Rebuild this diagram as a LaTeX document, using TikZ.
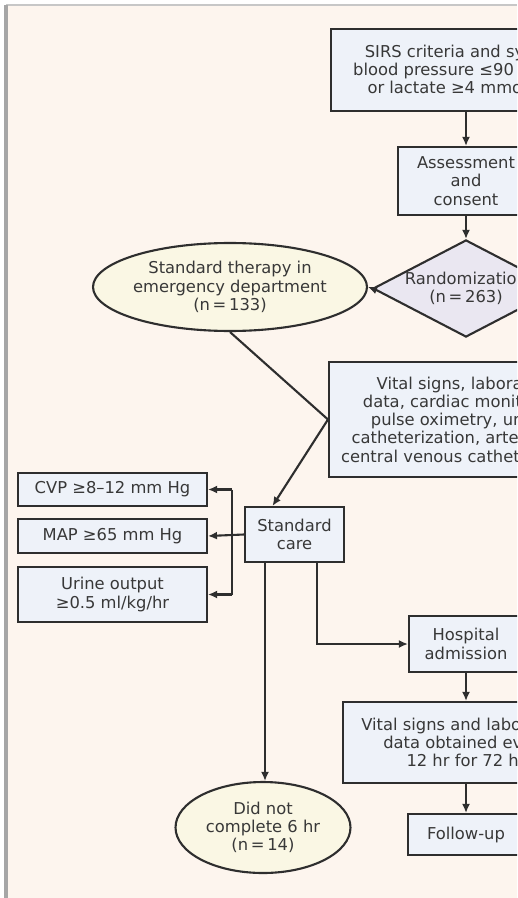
\documentclass[tikz,border=0pt]{standalone}
\usepackage{fontspec}
\setmainfont{DejaVu Sans}
\usetikzlibrary{shapes.geometric,arrows.meta,calc}
\definecolor{paper}{HTML}{FDF5EE}
\definecolor{boxfill}{HTML}{EEF2F9}
\definecolor{ovalfill}{HTML}{FAF7E4}
\definecolor{diafill}{HTML}{EAE7F1}
\definecolor{ink}{HTML}{2E2E2E}
\definecolor{txt}{HTML}{383838}
\begin{document}
\begin{tikzpicture}[x=0.02cm,y=-0.02cm,
	font=\fontsize{9.3}{10.4}\selectfont,
	every node/.style={text=txt,align=center,inner sep=0pt},
	box/.style={draw=ink,line width=1.2pt,fill=boxfill,rectangle},
	oval/.style={draw=ink,line width=1.2pt,fill=ovalfill,ellipse},
	link/.style={draw=ink,line width=1.2pt},
	arr/.style={link,-{Latex[length=1.8mm,width=1.6mm]}}]
	\useasboundingbox (0,0) rectangle (517,898);
	\clip (0,0) rectangle (517,898);
	\fill[white] (0,0) rectangle (517,898);
	\fill[paper] (6,6) rectangle (517,898);
	\draw[line width=1pt,black!22] (6,5) -- (517,5);
	\draw[line width=2pt,black!35] (6,5) -- (6,898);

	\node[box,minimum width=5.4cm,minimum height=1.64cm] (sirs) at (466,70) {SIRS criteria and systolic\\blood pressure ≤90 mm Hg\\or lactate ≥4 mmol/liter};
	\node[box,minimum width=2.72cm,minimum height=1.36cm] (assess) at (466,181) {Assessment\\and\\consent};
	\node[diamond,draw=ink,line width=1.2pt,fill=diafill,shape aspect=1.9,minimum width=3.72cm,minimum height=1.94cm] (rand) at (466,288.5) {Randomization\\(n\,=\,263)};
	\node[oval,minimum width=4.68cm,minimum height=1.76cm] (stdther) at (230,287) {Standard therapy in\\emergency department\\(n\,=\,133)};
	\node[box,minimum width=5.48cm,minimum height=2.3cm] (vital) at (466,419.5) {Vital signs, laboratory\\data, cardiac monitoring,\\pulse oximetry, urinary\\catheterization, arterial and\\central venous catheterization};
	\node[box,minimum width=1.98cm,minimum height=1.1cm] (stdcare) at (294.5,534.5) {Standard\\care};
	\node[box,minimum width=3.78cm,minimum height=0.66cm] (cvp) at (112.5,489.5) {CVP ≥8–12 mm Hg};
	\node[box,minimum width=3.78cm,minimum height=0.68cm] (map) at (112.5,536) {MAP ≥65 mm Hg};
	\node[box,minimum width=3.78cm,minimum height=1.1cm] (urine) at (112.5,594.5) {Urine output\\≥0.5 ml/kg/hr};
	\node[box,minimum width=2.28cm,minimum height=1.12cm] (hosp) at (466,644) {Hospital\\admission};
	\node[box,minimum width=4.92cm,minimum height=1.62cm] (labs) at (466,742.5) {Vital signs and laboratory\\data obtained every\\12 hr for 72 hr};
	\node[box,minimum width=2.32cm,minimum height=0.82cm] (follow) at (466,834.5) {Follow-up};
	\node[oval,minimum width=3.5cm,minimum height=1.82cm] (didnot) at (263,827.5) {Did not\\complete 6 hr\\(n\,=\,14)};

	\coordinate (bus) at (232,0);
	\coordinate (drop) at ($(stdcare.south)+(-29.5,0)$);
	\coordinate (split) at ($(stdcare.south)+(22.5,0)$);
	\draw[arr] (sirs) -- (assess);
	\draw[arr] (assess) -- (rand);
	\draw[arr] (rand.west) -- (stdther.east);
	\draw[arr] (stdther.south) -- (vital.west) -- ($(stdcare.north)+(-22,0)$);
	\draw[arr] (stdcare.west) -- (map.east);
	\draw[link] (bus |- cvp.east) -- (bus |- urine.east);
	\draw[arr] (bus |- cvp.east) -- (cvp.east);
	\draw[arr] (bus |- urine.east) -- (urine.east);
	\draw[arr] (drop) -- (drop |- didnot.north);
	\draw[arr] (split) |- (hosp.west);
	\draw[arr] (hosp) -- (labs);
	\draw[arr] (labs) -- (follow);
\end{tikzpicture}
\end{document}
